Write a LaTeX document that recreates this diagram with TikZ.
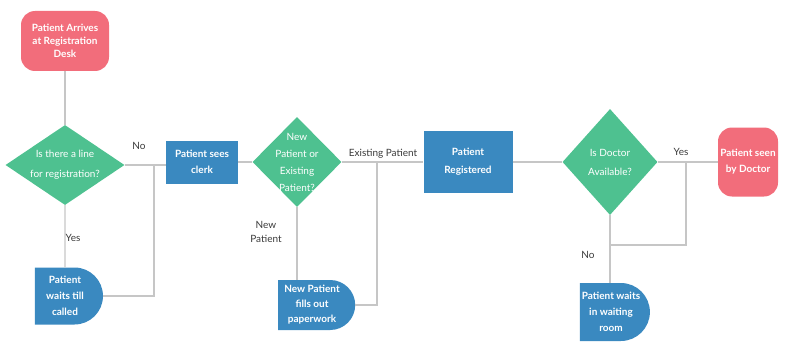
\documentclass[tikz,border=0pt]{standalone}
\usepackage{fontspec}
\setmainfont{Lato}
\usetikzlibrary{shapes.geometric,shapes.misc}

\definecolor{termred}{HTML}{F26D7B}
\definecolor{decgreen}{HTML}{4EC190}
\definecolor{procblue}{HTML}{3A89C0}
\definecolor{linegrey}{HTML}{C6C6C6}
\definecolor{labelgrey}{HTML}{3A3A3A}

\tikzset{
  nodetext/.style={text=white, font=\fontsize{10}{16}\selectfont, align=center},
  terminal/.style={nodetext, fill=termred, rectangle, rounded corners=14pt, inner sep=1pt},
  decision/.style={fill=decgreen, diamond, inner sep=0pt},
  process/.style={nodetext, fill=procblue, rectangle, inner sep=1pt},
  delaybox/.style={nodetext, fill=procblue, rounded rectangle, rounded rectangle west arc=none, inner sep=1pt},
  connector/.style={draw=linegrey, line width=1.2pt},
  edgelabel/.style={text=labelgrey, font=\fontsize{10}{14}\selectfont, align=center, inner sep=1pt}
}

\begin{document}
\begin{tikzpicture}[x=1pt,y=-1pt]

% Fix the page to the size of the reference
\useasboundingbox (0,0) rectangle (786,342);

% Start and end of the flow
\node[terminal, minimum width=88, minimum height=60, font=\fontsize{10}{13}\selectfont\bfseries] (arrive) at (65,41)
  {Patient Arrives\\at Registration\\Desk};
\node[terminal, minimum width=60, minimum height=69, font=\fontsize{10}{16}\selectfont\bfseries] (seen) at (748,162)
  {Patient seen\\by Doctor};

% Decisions
\node[decision, minimum width=119, minimum height=80,
  label={[nodetext, font=\fontsize{10}{20}\selectfont]center:Is there a line\\for registration?}] (line) at (65,165) {};
\node[decision, minimum width=89, minimum height=90,
  label={[nodetext, font=\fontsize{10}{17}\selectfont]center:New\\Patient or\\Existing\\Patient?}] (newold) at (297,162) {};
\node[decision, minimum width=95, minimum height=106,
  label={[nodetext, font=\fontsize{10}{19}\selectfont]center:Is Doctor\\Available?}] (doctor) at (610,162) {};

% Process steps
\node[process, minimum width=72, minimum height=43, font=\fontsize{10}{16}\selectfont\bfseries] (clerk) at (202,162)
  {Patient sees\\clerk};
\node[process, minimum width=89, minimum height=62, font=\fontsize{10}{18}\selectfont\bfseries] (registered) at (468,162)
  {Patient\\Registered};

% Waiting steps
\node[delaybox, minimum width=70, minimum height=57, font=\fontsize{10}{16}\selectfont\bfseries] (waitcall) at (65,296)
  {Patient\\waits till\\called};
\node[delaybox, minimum width=79, minimum height=50, font=\fontsize{10}{15}\selectfont\bfseries] (paperwork) at (312,305)
  {New Patient\\fills out\\paperwork};
\node[delaybox, minimum width=72, minimum height=58, font=\fontsize{10}{16}\selectfont\bfseries] (waitroom) at (611,312)
  {Patient waits\\in waiting\\room};

% Junction points of the return lines
\coordinate (backone) at (154,0);
\coordinate (backtwo) at (377,0);
\coordinate (backthree) at (686,245);

% Connectors
\draw[connector] (arrive) -- (line);
\draw[connector] (line.east) -- (line.east -| clerk.west);
\draw[connector] (line) -- (waitcall);
\draw[connector] (waitcall.east) -| (backone |- line.east);
\draw[connector] (clerk) -- (newold);
\draw[connector] (newold) -- (registered);
\draw[connector] (newold.south) -- (newold.south |- paperwork.north);
\draw[connector] (paperwork.east) -| (backtwo |- newold.east);
\draw[connector] (registered) -- (doctor);
\draw[connector] (doctor) -- (seen);
\draw[connector] (doctor.south) -- (doctor.south |- waitroom.north);
\draw[connector] (backthree -| doctor.south) -- (backthree) -- (backthree |- doctor.east);

% Branch labels
\node[edgelabel] (lineno) at (139,146) {No};
\node[edgelabel] (lineyes) at (73,238) {Yes};
\node[edgelabel] (existing) at (383,154) {Existing Patient};
\node[edgelabel] (newpat) at (266,232) {New\\Patient};
\node[edgelabel] (doctoryes) at (681,152) {Yes};
\node[edgelabel] (doctorno) at (588,255) {No};

\end{tikzpicture}
\end{document}
